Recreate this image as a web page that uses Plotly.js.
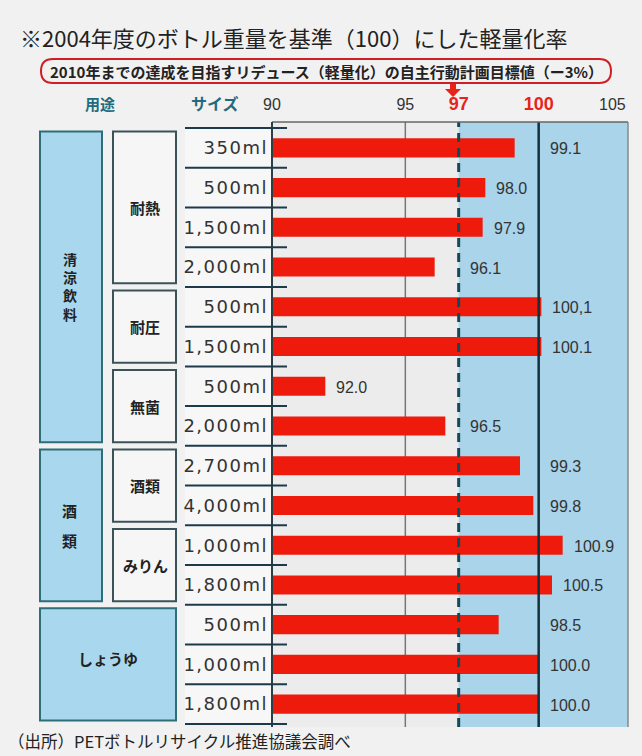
<!DOCTYPE html>
<html>
<head>
<meta charset="utf-8">
<script src="https://cdn.plot.ly/plotly-3.0.1.min.js"></script>
<style>
html,body{margin:0;padding:0;background:#f1f1f1;}
.ytick text{letter-spacing:1.5px;}
</style>
</head>
<body>
<div id="chart" style="width:642px;height:756px;"></div>
<script>
// ---- data ----
const sizes = ['350ml','500ml','1,500ml','2,000ml','500ml','1,500ml','500ml','2,000ml','2,700ml','4,000ml','1,000ml','1,800ml','500ml','1,000ml','1,800ml'];
const values = [99.1, 98.0, 97.9, 96.1, 100.1, 100.1, 92.0, 96.5, 99.3, 99.8, 100.9, 100.5, 98.5, 100.0, 100.0];
const valueLabels = ['99.1','98.0','97.9','96.1','100,1','100.1','92.0','96.5','99.3','99.8','100.9','100.5','98.5','100.0','100.0'];
const usageNames = ['清涼飲料','酒類','しょうゆ'];
const usageStart = [0, 8, 12];
const usageEnd = [7, 11, 14];
const typeNames = ['耐熱','耐圧','無菌','酒類','みりん'];
const typeStart = [0, 4, 6, 8, 10];
const typeEnd = [3, 5, 7, 9, 11];
const xTickVals = [90, 95, 97, 100];
const xTickText = ['90', '95', '97', '100'];
const xTickHighlight = [false, false, true, true];
const edgeTickLabel = '105';
const targetValue = 97;
const baseValue = 100;
const gridValue = 95;
const titleText = '※2004年度のボトル重量を基準（100）にした軽量化率';
const subtitleText = '2010年までの達成を目指すリデュース（軽量化）の自主行動計画目標値（ー3%）';
const headerUsage = '用途';
const headerSize = 'サイズ';
const sourceText = '（出所）PETボトルリサイクル推進協議会調べ';

// ---- layout helpers ----
const W = 642, H = 756;
const L = 272, R = 628, T = 122, B = 727;
const px = p => (p - L) / (R - L);
const py = p => (B - p) / (B - T);
const xMax = 103.35;
const n = values.length;
const yIdx = values.map((v, i) => i);
const JP = '"Noto Sans CJK JP", sans-serif';
const RED = '#e8231a';

const shapes = [];
const annotations = [];

// blue area right of target
shapes.push({type:'rect', xref:'x', yref:'paper', x0:targetValue, x1:xMax, y0:0, y1:1,
  fillcolor:'#a9d4ea', line:{width:0}, layer:'below'});
// label column cell background
shapes.push({type:'rect', xref:'paper', yref:'y', x0:px(185), x1:px(272), y0:-0.5, y1:n-0.5,
  fillcolor:'#f7f7f7', line:{width:0}, layer:'below'});
// reference lines
shapes.push({type:'line', xref:'x', yref:'paper', x0:gridValue, x1:gridValue, y0:0, y1:1,
  line:{color:'#777', width:1.5}, layer:'below'});
shapes.push({type:'line', xref:'x', yref:'paper', x0:targetValue, x1:targetValue, y0:0, y1:1,
  line:{color:'#134a5a', width:3, dash:'9px,6px'}, layer:'above'});
shapes.push({type:'line', xref:'x', yref:'paper', x0:baseValue, x1:baseValue, y0:0, y1:1,
  line:{color:'#12313e', width:2.5}, layer:'above'});
// plot borders
shapes.push({type:'line', xref:'paper', yref:'paper', x0:0, x1:1, y0:1, y1:1, line:{color:'#666', width:1.5}});
shapes.push({type:'line', xref:'paper', yref:'paper', x0:1, x1:1, y0:0, y1:1, line:{color:'#8a8a8a', width:1.5}});
shapes.push({type:'line', xref:'paper', yref:'paper', x0:0, x1:0, y0:0, y1:1, line:{color:'#2c3e46', width:2}});
// row separators
for (let i = 0; i <= n; i++) {
  shapes.push({type:'line', xref:'paper', yref:'y', x0:px(185), x1:px(287), y0:i-0.5, y1:i-0.5,
    line:{color:'#1c3a4a', width:2}});
}
// group boxes
const inset = 0.09;
const hasType = r => typeStart.some((s, k) => r >= s && r <= typeEnd[k]);
usageNames.forEach((name, k) => {
  const wide = !hasType(usageStart[k]);
  const x0 = px(40), x1 = wide ? px(176) : px(102);
  shapes.push({type:'rect', xref:'paper', yref:'y', x0:x0, x1:x1,
    y0:usageStart[k]-0.5+inset, y1:usageEnd[k]+0.5-inset,
    fillcolor:'#a9d8ee', line:{color:'#2d6e78', width:2}});
  const yc = (usageStart[k] + usageEnd[k]) / 2;
  if (wide) {
    annotations.push({xref:'paper', yref:'y', x:(x0+x1)/2, y:yc, yshift:6, xanchor:'center', yanchor:'middle',
      text:'<b>'+name+'</b>', showarrow:false, font:{family:JP, size:15, color:'#222'}});
  } else {
    const chars = Array.from(name);
    if (chars.length > 2) {
      annotations.push({xref:'paper', yref:'y', x:px(70), y:yc, xanchor:'center', yanchor:'middle',
        text:'<b>'+chars.join('<br>')+'</b>', showarrow:false, font:{family:JP, size:14, color:'#222'}});
    } else {
      chars.forEach((c, j) => {
        annotations.push({xref:'paper', yref:'y', x:px(70), y:yc, yshift:-(j-(chars.length-1)/2)*30,
          xanchor:'center', yanchor:'middle',
          text:'<b>'+c+'</b>', showarrow:false, font:{family:JP, size:15, color:'#222'}});
      });
    }
  }
});
typeNames.forEach((name, k) => {
  shapes.push({type:'rect', xref:'paper', yref:'y', x0:px(113), x1:px(176),
    y0:typeStart[k]-0.5+inset, y1:typeEnd[k]+0.5-inset,
    fillcolor:'#f6f6f6', line:{color:'#3b5358', width:2}});
  annotations.push({xref:'paper', yref:'y', x:px(145), y:(typeStart[k]+typeEnd[k])/2,
    xanchor:'center', yanchor:'middle',
    text:'<b>'+name+'</b>', showarrow:false, font:{family:JP, size:15, color:'#222'}});
});

// subtitle rounded box (pixel path -> paper coords)
function roundedPath(x0, y0, x1, y1, r) {
  const P = (x, y) => px(x) + ',' + py(y);
  return 'M' + P(x0+r, y0) + ' L' + P(x1-r, y0) + ' Q' + P(x1, y0) + ' ' + P(x1, y0+r) +
    ' L' + P(x1, y1-r) + ' Q' + P(x1, y1) + ' ' + P(x1-r, y1) +
    ' L' + P(x0+r, y1) + ' Q' + P(x0, y1) + ' ' + P(x0, y1-r) +
    ' L' + P(x0, y0+r) + ' Q' + P(x0, y0) + ' ' + P(x0+r, y0) + ' Z';
}
shapes.push({type:'path', xref:'paper', yref:'paper', path:roundedPath(41, 59, 611, 83, 12),
  fillcolor:'rgba(0,0,0,0)', line:{color:'#cf1f25', width:2}});
// red arrow pointing at target
(function(){
  const ax = 453;
  const P = (x, y) => px(x) + ',' + py(y);
  const p = 'M' + P(ax-3, 84) + ' L' + P(ax+3, 84) + ' L' + P(ax+3, 89) + ' L' + P(ax+8, 89) +
    ' L' + P(ax, 97) + ' L' + P(ax-8, 89) + ' L' + P(ax-3, 89) + ' Z';
  shapes.push({type:'path', xref:'paper', yref:'paper', path:p, fillcolor:RED, line:{width:0}});
})();

// texts
annotations.push({xref:'paper', yref:'paper', x:px(18), y:py(37), xanchor:'left', yanchor:'middle',
  text:titleText, showarrow:false, font:{family:JP, size:22, color:'#222'}});
annotations.push({xref:'paper', yref:'paper', x:px(326), y:py(71), xanchor:'center', yanchor:'middle',
  text:'<b>'+subtitleText+'</b>', showarrow:false, font:{family:JP, size:15, color:'#222'}});
annotations.push({xref:'paper', yref:'paper', x:px(100), y:py(103), xanchor:'center', yanchor:'middle',
  text:'<b>'+headerUsage+'</b>', showarrow:false, font:{family:JP, size:15, color:'#1f6b80'}});
annotations.push({xref:'paper', yref:'paper', x:px(215), y:py(103), xanchor:'center', yanchor:'middle',
  text:'<b>'+headerSize+'</b>', showarrow:false, font:{family:JP, size:16, color:'#1f6b80'}});
annotations.push({xref:'paper', yref:'paper', x:1, y:py(105), xanchor:'right', yanchor:'middle',
  text:edgeTickLabel, showarrow:false, font:{family:'Liberation Sans, Arial', size:16, color:'#333'}});
annotations.push({xref:'paper', yref:'paper', x:px(6), y:py(741), xanchor:'left', yanchor:'middle',
  text:sourceText, showarrow:false, font:{family:JP, size:16.5, color:'#222'}});

// value labels (placed right of bar, or right of the reference line the bar falls short of)
function labelAnchor(v) {
  if (v > gridValue + 1 && v < targetValue) return targetValue;
  if (v > 98.2 && v < baseValue) return baseValue;
  return v;
}
values.forEach((v, i) => {
  annotations.push({xref:'x', yref:'y', x:labelAnchor(v), y:i, xanchor:'left', yanchor:'middle', xshift:9, yshift:-1,
    text:valueLabels[i], showarrow:false, font:{family:'Liberation Sans, Arial', size:16, color:'#333'}});
});

const trace = {
  type:'bar', orientation:'h', x:values, y:yIdx, width:0.48,
  marker:{color:'#ee1b0c', line:{width:0}}, hoverinfo:'skip'
};

const layout = {
  width:W, height:H,
  margin:{l:L, r:W-R, t:T, b:H-B, pad:0},
  paper_bgcolor:'#f1f1f1', plot_bgcolor:'#ececec',
  showlegend:false,
  xaxis:{side:'top', range:[90, xMax], tickvals:xTickVals,
    ticktext:xTickText.map((t, i) => xTickHighlight[i] ? '<b><span style="color:'+RED+';font-size:18px">'+t+'</span></b>' : t),
    tickfont:{family:'Liberation Sans, Arial', size:16, color:'#333'},
    ticks:'', showgrid:false, zeroline:false, showline:false, ticklabelstandoff:8, fixedrange:true},
  yaxis:{range:[n-0.5+0.076, -0.651], tickvals:yIdx, ticktext:sizes,
    tickfont:{family:'DejaVu Sans', size:18, color:'#333'},
    ticks:'', showgrid:false, zeroline:false, showline:false, ticklabelstandoff:3, fixedrange:true},
  shapes:shapes, annotations:annotations
};

Plotly.newPlot('chart', [trace], layout, {displayModeBar:false, staticPlot:true});
</script>
</body>
</html>
